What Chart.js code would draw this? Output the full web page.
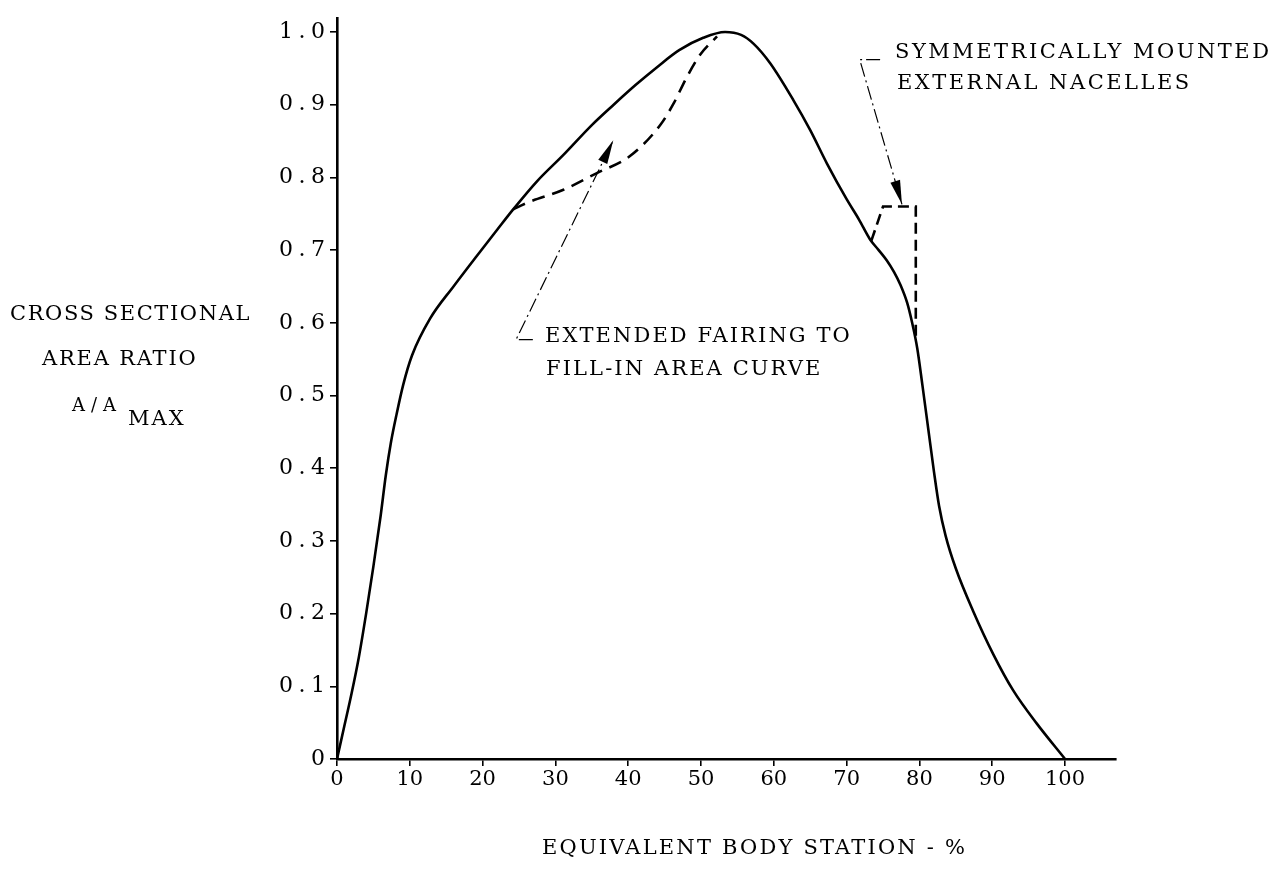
<html>
<head>
    <script type="text/javascript" src="https://cdn.jsdelivr.net/npm/chart.js@4/dist/chart.umd.min.js"></script>
    <style>
        body { margin: 0; background: #fff; }
        canvas { display: block; }
    </style>
</head>
<body>
    <canvas id="area-ruling" width="1281" height="869"></canvas>

    <script type="text/javascript">
        // basic body (solid)
        var bodyStation = [0, 1, 2, 3, 4, 5, 6, 6.7, 7.4, 8.2, 9.1, 10.3, 12.8, 16.0, 19.2, 22.0, 24.2, 27.5, 31.1, 35.0, 38.0, 41.0, 44.0, 47.0, 50.3, 53.3, 55.5, 57.2, 59.5, 62.7, 65.0, 67.3, 70.0, 71.7, 73.2, 74.4, 75.5, 76.5, 77.4, 78.3, 79.0, 79.7, 80.4, 81.2, 82.0, 82.7, 83.6, 85.0, 87.4, 90.15, 92.9, 96.1, 100];
        var bodyRatio   = [0, 0.045, 0.09, 0.14, 0.2, 0.265, 0.335, 0.39, 0.435, 0.475, 0.515, 0.555, 0.606, 0.650, 0.692, 0.728, 0.756, 0.795, 0.831, 0.872, 0.900, 0.927, 0.952, 0.975, 0.992, 1.0, 0.996, 0.984, 0.957, 0.906, 0.865, 0.819, 0.770, 0.742, 0.715, 0.700, 0.686, 0.670, 0.652, 0.628, 0.600, 0.565, 0.515, 0.455, 0.395, 0.348, 0.307, 0.262, 0.203, 0.144, 0.094, 0.049, 0];

        // extended fairing (dashed)
        var fairingStation = [24.2, 26.1, 31.1, 35.7, 40.2, 44.4, 46.2, 48.0, 49.9, 52.2];
        var fairingRatio   = [0.756, 0.765, 0.783, 0.806, 0.829, 0.872, 0.901, 0.937, 0.969, 0.994];

        // external nacelles (dashed)
        var nacelleStation = [73.4, 75.0, 79.5, 79.5];
        var nacelleRatio   = [0.713, 0.760, 0.760, 0.575];

        // leader lines, last point is the arrow tip
        var fairingLeaderStation = [26.9, 24.6, 37.95];
        var fairingLeaderRatio   = [0.577, 0.577, 0.851];
        var nacelleLeaderStation = [74.6, 71.8, 77.6];
        var nacelleLeaderRatio   = [0.962, 0.962, 0.763];

        var xTicks = [0, 10, 20, 30, 40, 50, 60, 70, 80, 90, 100];
        var yTicks = [0, 0.1, 0.2, 0.3, 0.4, 0.5, 0.6, 0.7, 0.8, 0.9, 1.0];

        var FONT = 'DejaVu Serif';
        var Y_LABEL_SPACING = 5.5;

        function toPoints(xs, ys) {
            var pts = [];
            for (var i = 0; i < xs.length; i++) {
                pts.push({x: xs[i], y: ys[i]});
            }
            return pts;
        }

        // texts drawn by hand, canvas pixels
        var notes = [
            {text: 'EXTENDED FAIRING TO', x: 545, y: 337, size: 21, gap: 2.1},
            {text: 'FILL-IN AREA CURVE', x: 546, y: 370, size: 21, gap: 2.1},
            {text: 'SYMMETRICALLY MOUNTED', x: 895, y: 53, size: 21, gap: 2.5},
            {text: 'EXTERNAL NACELLES', x: 897, y: 84, size: 21, gap: 2.5},
            {text: 'CROSS SECTIONAL', x: 10, y: 315, size: 21, gap: 1.6},
            {text: 'AREA RATIO', x: 42, y: 360, size: 21, gap: 1.8},
            {text: 'A/A', x: 72, y: 406, size: 18, gap: 6},
            {text: 'MAX', x: 128, y: 420, size: 21, gap: 2},
            {text: 'EQUIVALENT BODY STATION - %', x: 542, y: 849, size: 21, gap: 2.2}
        ];

        var typewriter = {
            id: 'typewriter',
            beforeDraw: function(chart) {
                var s = chart.scales.y;
                if (s._spaced) return;
                var orig = s.drawLabels;
                s.drawLabels = function(area) {
                    var ctx = this.ctx;
                    ctx.save();
                    ctx.letterSpacing = Y_LABEL_SPACING + 'px';
                    ctx.translate(Y_LABEL_SPACING, 0);
                    orig.call(this, area);
                    ctx.restore();
                };
                s._spaced = true;
            },
            afterDraw: function(chart) {
                var ctx = chart.ctx;
                ctx.save();
                ctx.fillStyle = '#000';

                // arrow heads on the leaders
                [3, 4].forEach(function(idx) {
                    var pts = chart.getDatasetMeta(idx).data;
                    var a = pts[pts.length - 2], b = pts[pts.length - 1];
                    var ang = Math.atan2(b.y - a.y, b.x - a.x);
                    ctx.save();
                    ctx.translate(b.x, b.y);
                    ctx.rotate(ang);
                    ctx.beginPath();
                    ctx.moveTo(0, 0);
                    ctx.lineTo(-24, -5);
                    ctx.lineTo(-24, 5);
                    ctx.closePath();
                    ctx.fill();
                    ctx.restore();
                });

                ctx.textAlign = 'left';
                ctx.textBaseline = 'middle';
                notes.forEach(function(n) {
                    ctx.font = n.size + 'px "' + FONT + '"';
                    ctx.letterSpacing = n.gap + 'px';
                    ctx.fillText(n.text, n.x, n.y);
                });
                ctx.restore();
            }
        };

        var ctx = document.getElementById('area-ruling').getContext('2d');
        var chart = new Chart(ctx, {
            type: 'line',
            data: {
                datasets: [{
                    label: 'Body',
                    data: toPoints(bodyStation, bodyRatio),
                    borderColor: '#000',
                    borderWidth: 2.6,
                    cubicInterpolationMode: 'monotone',
                    pointRadius: 0,
                    fill: false
                }, {
                    label: 'Extended fairing',
                    data: toPoints(fairingStation, fairingRatio),
                    borderColor: '#000',
                    borderWidth: 2.6,
                    borderDash: [13, 8],
                    cubicInterpolationMode: 'monotone',
                    pointRadius: 0,
                    fill: false
                }, {
                    label: 'Nacelles',
                    data: toPoints(nacelleStation, nacelleRatio),
                    borderColor: '#000',
                    borderWidth: 2.6,
                    borderDash: [11, 6],
                    tension: 0,
                    pointRadius: 0,
                    fill: false
                }, {
                    label: 'leader 1',
                    data: toPoints(fairingLeaderStation, fairingLeaderRatio),
                    borderColor: '#000',
                    borderWidth: 1.2,
                    borderDash: [14, 4, 2, 4],
                    tension: 0,
                    pointRadius: 0,
                    fill: false
                }, {
                    label: 'leader 2',
                    data: toPoints(nacelleLeaderStation, nacelleLeaderRatio),
                    borderColor: '#000',
                    borderWidth: 1.2,
                    borderDash: [14, 4, 2, 4],
                    tension: 0,
                    pointRadius: 0,
                    fill: false
                }]
            },
            options: {
                responsive: false,
                animation: false,
                events: [],
                layout: {padding: {top: 10, right: 165, bottom: 0, left: 0}},
                plugins: {
                    legend: {display: false},
                    tooltip: {enabled: false}
                },
                scales: {
                    x: {
                        type: 'linear',
                        min: 0,
                        max: 107,
                        afterBuildTicks: function(s) {
                            s.ticks = xTicks.map(function(v) { return {value: v}; });
                        },
                        afterFit: function(s) { s.height = 110; },
                        border: {display: true, color: '#000', width: 2.6},
                        grid: {display: true, drawOnChartArea: false, drawTicks: true, tickLength: 7, color: '#000', lineWidth: 1.6},
                        ticks: {
                            font: {family: FONT, size: 21},
                            color: '#000',
                            padding: 1,
                            maxRotation: 0,
                            autoSkip: false,
                            callback: function(v) { return String(v); }
                        }
                    },
                    y: {
                        min: 0,
                        max: 1.019,
                        afterBuildTicks: function(s) {
                            s.ticks = yTicks.map(function(v) { return {value: v}; });
                        },
                        afterFit: function(s) { s.width = 337; },
                        border: {display: true, color: '#000', width: 2.6},
                        grid: {display: true, drawOnChartArea: false, drawTicks: true, tickLength: 7, color: '#000', lineWidth: 1.6},
                        ticks: {
                            font: {family: FONT, size: 22},
                            color: '#000',
                            padding: 5,
                            autoSkip: false,
                            callback: function(v) { return v === 0 ? '0' : v.toFixed(1); }
                        }
                    }
                }
            },
            plugins: [typewriter]
        });
    </script>
</body>
</html>
